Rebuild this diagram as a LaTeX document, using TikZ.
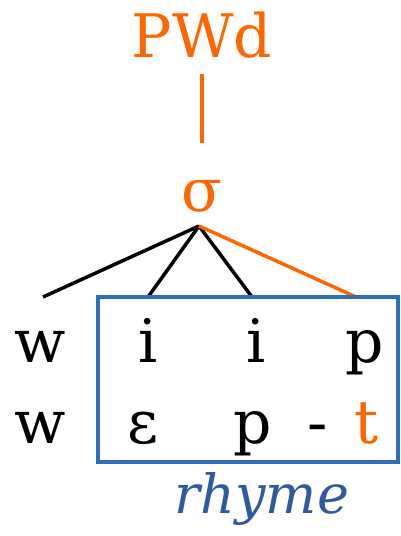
\documentclass[tikz,border=0pt]{standalone}
\usepackage{fontspec}
\setmainfont{DejaVu Serif}
\usepackage{tikz}
\usetikzlibrary{positioning,calc}

\definecolor{pworange}{HTML}{FF6600}
\definecolor{rhymeblue}{HTML}{2F6DBD}
\definecolor{rhymetext}{HTML}{2E5AA0}

\begin{document}
\begin{tikzpicture}[
  x=1pt, y=-1pt,
  seg/.style={anchor=base, inner sep=0pt, font=\fontsize{60}{64}\selectfont},
  lbl/.style={seg, text=pworange},
  branch/.style={line width=3.5pt},
  hot/.style={branch, draw=pworange},
  rhymebox/.style={draw=rhymeblue, line width=4.5pt}
]
  \useasboundingbox (0,0) rectangle (400,536);

  % Prosodic word and syllable
  \node[lbl] (pwd) at (202,57) {PWd};
  \node[lbl] (sig) at (202,211) {σ};
  \draw[hot, line width=4pt] ([yshift=-17pt]pwd.base) -- ([yshift=68pt]sig.base);

  % Branch ends above the segments
  \coordinate (apex) at (199,226);
  \coordinate (e1) at (43,297);
  \coordinate (e2) at (148,297);
  \coordinate (e3) at (252,297);
  \coordinate (e4) at (356,297);
  \draw[branch] (apex) -- (e1);
  \draw[branch] (apex) -- (e2);
  \draw[branch] (apex) -- (e3);
  \draw[hot] (apex) -- (e4);

  % Rhyme box
  \draw[rhymebox] (98,297) rectangle (398,462);

  % First word
  \node[seg] (w1) at (40,362) {w};
  \node[seg] (i1) at (148,362) {i};
  \node[seg] (i2) at (256,362) {i};
  \node[seg] (p1) at (365,362) {p};

  % Second word
  \node[seg] (w2) at (40,443) {w};
  \node[seg] (eps) at (143,443) {ɛ};
  \node[seg] (p2) at (253,443) {p};
  \node[seg] (dash) at (318,443) {-};
  \node[lbl] (t) at (367,443) {t};

  \node[seg, text=rhymetext, font=\itshape\fontsize{54}{58}\selectfont] (rhyme) at (262,513) {rhyme};
\end{tikzpicture}
\end{document}
